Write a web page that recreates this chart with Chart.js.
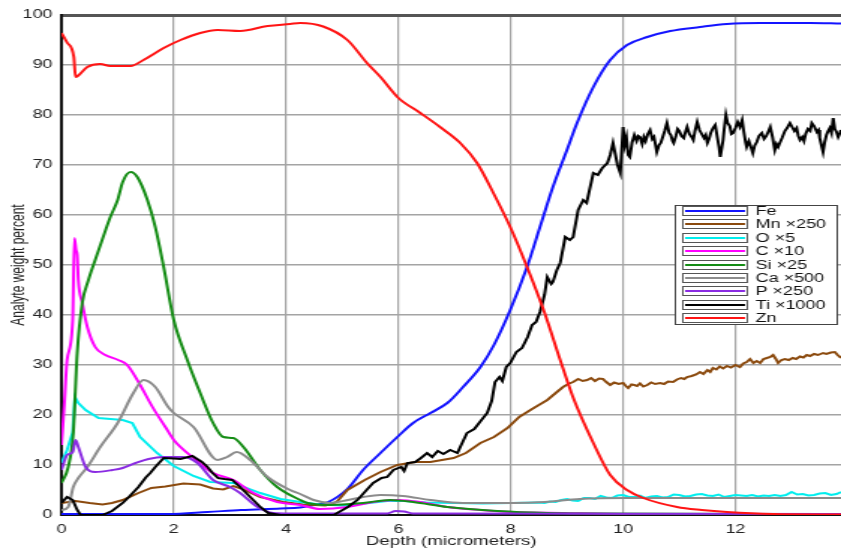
<!DOCTYPE html>
<html>
<head>
<meta charset="utf-8">
<script src="https://cdn.jsdelivr.net/npm/chart.js@4.4.1/dist/chart.umd.min.js"></script>
<style>
  html, body { margin: 0; padding: 0; background: #fff; overflow: hidden; }
  /* the reference is an old narrow plot stretched sideways, so draw narrow and stretch */
  #wrap { width: 561px; height: 549px; transform: scaleX(1.4991); transform-origin: 0 0; }
</style>
</head>
<body>
<div id="wrap"><canvas id="depthChart" width="561" height="549"></canvas></div>
<script>
// tick values
const xTickValues = [0, 2, 4, 6, 8, 10, 12];
const yTickValues = [0, 10, 20, 30, 40, 50, 60, 70, 80, 90, 100];

// [depth um, weight %]
const feData = [[0,0.2],[1.9,0.2],[2.6,0.6],[3.2,1.0],[3.9,1.3],[4.25,1.5],[4.5,2],[4.75,2.6],[5.09,5.2],[5.37,9],[5.68,12.4],[5.98,15.6],[6.26,18.4],[6.57,20.4],[6.87,22.4],[7.15,25.6],[7.46,29.6],[7.7,34],[7.99,41],[8.29,49.6],[8.52,57.6],[8.75,65.6],[9.0,73],[9.18,78.4],[9.47,85.6],[9.77,91],[10.07,94],[10.43,95.6],[10.84,96.8],[11.37,97.6],[11.85,98.2],[12.44,98.4],[13.33,98.4],[13.88,98.3]];

const mnData = [[0,2.4],[0.25,2.8],[0.5,2.4],[0.73,2.1],[0.9,2.4],[1.09,3],[1.37,4.4],[1.6,5.4],[1.85,5.7],[2.17,6.3],[2.47,6.1],[2.7,5.3],[2.88,5.1],[3.06,5.8],[3.2,5.3],[3.54,3.6],[3.95,2.6],[4.3,2.1],[4.7,1.9],[4.9,2.6],[5.09,5.0],[5.4,7],[5.68,8.6],[5.98,10],[6.3,10.6],[6.57,10.6],[6.98,11.4],[7.2,12.4],[7.46,14.4],[7.7,15.6],[7.94,17.4],[8.15,19.6],[8.35,21],[8.5,22],[8.65,23],[8.8,24.4],[8.93,25.6],[9.02,26.2],[9.11,26.6],[9.2,27.2],[9.28,26.8],[9.36,27],[9.43,27.4],[9.5,26.8],[9.57,27.3],[9.64,27.2],[9.7,26.6],[9.77,26],[9.84,26.5],[9.92,26.2],[10.0,26.4],[10.05,25.8],[10.09,25.4],[10.15,26.1],[10.2,26.0],[10.25,25.8],[10.3,26.3],[10.36,25.7],[10.43,26],[10.5,26.5],[10.57,26.2],[10.66,26.4],[10.73,26.2],[10.8,26.7],[10.89,26.6],[10.96,27.1],[11.03,27.4],[11.09,27.2],[11.14,27.6],[11.22,27.8],[11.3,28.1],[11.37,28.6],[11.43,28.2],[11.5,29],[11.55,28.6],[11.6,29.4],[11.66,29.1],[11.72,29.7],[11.78,29.3],[11.85,29.8],[11.92,29.5],[12.0,30.0],[12.08,29.6],[12.14,30.3],[12.2,30.6],[12.26,31.2],[12.32,30.4],[12.38,30.8],[12.44,30.4],[12.5,31.2],[12.56,31.4],[12.62,31.6],[12.67,32],[12.72,31.2],[12.76,30.4],[12.82,31],[12.88,31.2],[12.95,31.0],[13.02,31.4],[13.08,31.2],[13.15,31.7],[13.21,31.5],[13.27,32],[13.33,31.8],[13.4,32.2],[13.47,32.0],[13.56,32.4],[13.62,32.2],[13.7,32.5],[13.77,32.6],[13.82,32.0],[13.88,31.4]];

const oData = [[0,10.4],[0.1,13],[0.2,16.5],[0.24,23.6],[0.3,22.4],[0.43,21],[0.66,19.4],[1.09,19],[1.26,18.4],[1.4,15.6],[1.7,12.4],[2.0,9.8],[2.35,7.8],[2.65,6.6],[3.06,6.4],[3.3,5.4],[3.54,4.4],[3.9,3.2],[4.25,2.6],[4.6,2.1],[5.0,1.9],[5.4,2.3],[5.8,2.8],[6.1,2.8],[6.5,2.5],[7.0,2.4],[7.5,2.3],[8.0,2.4],[8.5,2.5],[8.6,2.4],[8.7,2.7],[8.8,2.6],[8.9,3.0],[9.0,3.2],[9.1,2.9],[9.2,2.8],[9.3,3.4],[9.4,3.4],[9.5,3.2],[9.6,3.8],[9.7,3.5],[9.8,3.4],[9.9,3.9],[10.0,4.0],[10.1,3.6],[10.2,3.6],[10.3,3.9],[10.4,3.4],[10.5,3.7],[10.6,3.8],[10.7,3.5],[10.8,3.6],[10.9,4.1],[11.0,4.0],[11.1,3.7],[11.2,3.8],[11.3,4.1],[11.4,4.2],[11.5,3.9],[11.6,3.8],[11.7,4.1],[11.8,3.6],[11.9,3.8],[12.0,4.0],[12.1,3.9],[12.2,3.8],[12.3,4.0],[12.4,3.7],[12.5,3.9],[12.6,3.8],[12.7,4.0],[12.8,3.8],[12.9,4.0],[13.0,4.6],[13.1,4.1],[13.2,4.2],[13.3,3.9],[13.4,4.0],[13.5,4.3],[13.6,4.4],[13.7,4.0],[13.8,4.2],[13.88,4.6]];

const cData = [[0,14],[0.05,22],[0.1,31],[0.2,39],[0.23,55.4],[0.26,53],[0.28,52],[0.3,47],[0.37,42.4],[0.46,37.6],[0.6,33.6],[0.78,32],[1.01,31],[1.17,30],[1.37,26.6],[1.62,21.6],[1.85,17.6],[2.0,15],[2.35,11.4],[2.7,8.4],[3.06,7],[3.42,4.4],[3.84,2.6],[4.25,2],[4.6,1.2],[5.09,1.6],[5.55,2.6],[5.98,3],[6.39,2.6],[6.87,1.6],[7.46,1],[8.04,0.6],[8.93,0.4],[10,0.2],[13.88,0.1]];

const siData = [[0,6.4],[0.12,9.6],[0.21,16.4],[0.28,32.4],[0.37,42.4],[0.48,47],[0.6,51],[0.73,55.2],[0.87,59.6],[1.0,63],[1.09,66.6],[1.23,68.6],[1.35,67.6],[1.53,63],[1.67,57.6],[1.82,49.6],[2.0,39],[2.24,31],[2.47,24.4],[2.7,18.4],[2.88,15.6],[3.06,15.4],[3.24,13.6],[3.54,9],[3.84,5.6],[4.25,3],[4.38,2.4],[4.79,2],[5.37,2.4],[5.85,3],[6.26,2.6],[6.87,1.6],[7.76,0.8],[8.65,0.4],[9.5,0.3],[13.88,0.2]];

const caData = [[0,1],[0.12,1.6],[0.21,5.6],[0.3,7.4],[0.46,9.6],[0.69,13.6],[1.0,18.4],[1.28,24.4],[1.46,27],[1.67,25.6],[1.9,21.6],[2.0,20.4],[2.35,17.6],[2.78,11],[2.95,11.6],[3.12,12.6],[3.36,11],[3.67,7.6],[4.07,5],[4.25,4.2],[4.49,3],[4.79,2.4],[5.1,3],[5.37,3.6],[5.68,4],[6.08,3.8],[6.57,3],[7.15,2.4],[8.04,2.4],[8.6,2.6],[9.23,3.2],[10.07,3.4],[13.88,3.4]];

const pData = [[0,9],[0.1,12],[0.2,12.6],[0.25,15],[0.3,13.6],[0.43,9.6],[0.6,8.6],[0.91,9],[1.09,9.4],[1.32,10.4],[1.55,11.2],[1.82,11.6],[2.17,11.6],[2.42,10.4],[2.7,7],[3.0,5.6],[3.18,4.4],[3.49,1.6],[3.77,0.4],[4.07,0.3],[5.8,0.3],[5.95,0.8],[6.1,0.7],[6.25,0.3],[13.88,0.2]];

const tiData = [[0,2.4],[0.1,3.6],[0.2,3],[0.28,1],[0.34,0],[0.73,0],[0.9,0.8],[1.09,2.4],[1.2,3.6],[1.37,5.6],[1.5,7.5],[1.58,8.4],[1.67,9.6],[1.82,11.4],[2.0,11.3],[2.12,11.2],[2.33,11.8],[2.5,10.6],[2.6,9.6],[2.69,8.4],[2.79,7.4],[2.9,7.2],[3.04,7],[3.18,5.6],[3.36,3.6],[3.54,1.6],[3.68,0.4],[3.9,0],[4.85,0],[4.91,0.4],[5.1,1.6],[5.27,3],[5.4,4.6],[5.55,6.4],[5.7,7.4],[5.8,7.6],[5.91,9],[6.05,9.6],[6.1,8.8],[6.16,10.4],[6.3,10.6],[6.4,11.4],[6.51,12.4],[6.6,11.6],[6.7,12.8],[6.8,12.2],[6.92,13],[7.05,12.4],[7.1,13.6],[7.22,16.4],[7.35,17.2],[7.45,18.6],[7.58,20.4],[7.66,22.8],[7.72,26.6],[7.8,27.6],[7.85,26.8],[7.92,29.6],[7.99,30.4],[8.1,32.6],[8.2,33.4],[8.3,35.6],[8.38,38],[8.45,38.6],[8.52,40.6],[8.6,44],[8.65,47.6],[8.72,46.2],[8.75,46.6],[8.82,49],[8.88,50.4],[8.97,55.6],[9.05,55],[9.11,55.6],[9.2,61],[9.29,63],[9.35,62.4],[9.47,68.4],[9.55,68],[9.63,69.4],[9.72,70.4],[9.77,72],[9.82,74.4],[9.9,70],[9.95,68.4],[10.0,77.6],[10.03,74],[10.06,75.5],[10.09,72],[10.12,71.6],[10.16,74.5],[10.2,76],[10.24,74.8],[10.27,75.8],[10.3,75.6],[10.34,74.2],[10.37,75.6],[10.4,74.8],[10.44,76.2],[10.48,77],[10.52,75.2],[10.55,75.6],[10.58,73.8],[10.6,72.6],[10.64,74],[10.67,74.4],[10.7,75.4],[10.74,76.8],[10.78,78.4],[10.82,76.4],[10.85,76],[10.88,74.8],[10.9,74.4],[10.94,75.8],[10.97,77.2],[11.0,76.8],[11.04,75.8],[11.08,75.4],[11.11,76.6],[11.14,77.6],[11.18,76.2],[11.22,75.6],[11.25,75],[11.28,76.8],[11.32,78.6],[11.36,77],[11.4,76.2],[11.44,75.4],[11.47,76],[11.5,74.4],[11.53,75.2],[11.56,76.4],[11.6,77.4],[11.64,78],[11.68,75.4],[11.71,73.4],[11.73,71.6],[11.76,73.6],[11.78,75],[11.8,77.2],[11.83,80],[11.86,78.4],[11.9,77.8],[11.93,76.2],[11.96,76.4],[12.0,77.4],[12.04,78.6],[12.08,77.6],[12.12,79],[12.15,76.6],[12.18,74.6],[12.2,73.6],[12.24,74.8],[12.27,73.8],[12.31,72.4],[12.34,73.8],[12.38,74.6],[12.42,75.8],[12.47,76.4],[12.51,75.2],[12.55,75.8],[12.59,76.8],[12.62,77.6],[12.66,75.6],[12.7,73],[12.73,74.2],[12.76,73.6],[12.79,74.4],[12.83,75.4],[12.88,76.8],[12.92,77.4],[12.97,78.4],[13.01,77.6],[13.05,76.8],[13.09,77.4],[13.12,75.8],[13.15,75],[13.19,75.6],[13.22,74.8],[13.25,76.2],[13.29,77.2],[13.33,76.8],[13.36,78.4],[13.4,77.8],[13.45,76.6],[13.48,77],[13.5,75.4],[13.53,74],[13.56,72.6],[13.59,74.6],[13.62,76],[13.65,76.8],[13.68,77.4],[13.71,76.4],[13.74,79.4],[13.77,77.2],[13.8,76.6],[13.83,75.6],[13.86,76.4],[13.88,77]];

const znData = [[0,96.4],[0.1,94.5],[0.22,91.6],[0.25,87.6],[0.3,87.9],[0.46,89.6],[0.69,90.2],[0.87,89.8],[1.23,89.8],[1.46,91],[1.82,93.4],[2.12,95],[2.47,96.4],[2.78,97],[3.18,96.8],[3.67,97.8],[4.07,98.2],[4.25,98.4],[4.66,97.7],[5.09,95],[5.44,90.4],[5.68,87.6],[6.0,83.4],[6.39,80.4],[6.74,77.6],[7.1,74.4],[7.4,70.4],[7.69,64.4],[7.99,57.6],[8.29,49.6],[8.6,40.5],[8.88,31],[9.11,23.5],[9.47,14.4],[9.77,8],[10.07,5],[10.36,3.4],[10.96,1.6],[11.4,1.0],[11.85,0.6],[12.67,0.2],[13.88,0.1]];

const seriesNames = ['Fe', 'Mn \u00d7250', 'O \u00d75', 'C \u00d710', 'Si \u00d725', 'Ca \u00d7500', 'P \u00d7250', 'Ti \u00d71000', 'Zn'];
const seriesValues = [feData, mnData, oData, cData, siData, caData, pData, tiData, znData];
const lineColors = ['#1414ff', '#8b4a0e', '#00eeee', '#ff00ff', '#148c14', '#8c8c8c', '#8a2be2', '#000000', '#ff1414'];
// noisy traces stay as straight segments, the rest are drawn smooth
const noisySeries = ['Mn \u00d7250', 'O \u00d75', 'Ti \u00d71000'];

const textFont = { family: '"Liberation Sans", Arial, sans-serif', size: 12 };
const textColor = '#222';

// legend box sitting inside the plot, right side
const insideLegend = {
    id: 'insideLegend',
    afterDatasetsDraw(chart) {
        const { ctx, chartArea } = chart;
        const right = chartArea.right - 2;
        const left = right - 109;
        const top = chartArea.top + 190;
        const rowH = 13.4;
        ctx.save();
        ctx.fillStyle = '#fff';
        ctx.fillRect(left, top, right - left, 120);
        ctx.strokeStyle = '#444';
        ctx.lineWidth = 1;
        ctx.strokeRect(left + 0.5, top + 0.5, right - left - 1, 119);
        ctx.font = '12px "Liberation Sans", Arial, sans-serif';
        ctx.textBaseline = 'middle';
        chart.data.datasets.forEach((ds, i) => {
            const cy = Math.round(top + 6 + i * rowH);
            ctx.strokeStyle = '#555';
            ctx.lineWidth = 1;
            ctx.strokeRect(left + 5.5, cy - 4.5, 43, 9);
            ctx.strokeStyle = ds.borderColor;
            ctx.lineWidth = 2;
            ctx.beginPath();
            ctx.moveTo(left + 7, cy);
            ctx.lineTo(left + 47, cy);
            ctx.stroke();
            ctx.fillStyle = '#111';
            ctx.fillText(ds.label, left + 54, cy + 0.5);
        });
        ctx.restore();
    }
};

new Chart(document.getElementById('depthChart'), {
    type: 'line',
    data: {
        datasets: seriesNames.map((name, i) => ({
            label: name,
            data: seriesValues[i].map(([x, y]) => ({ x, y })),
            borderColor: lineColors[i],
            backgroundColor: lineColors[i],
            borderWidth: 2,
            pointRadius: 0,
            fill: false,
            cubicInterpolationMode: noisySeries.includes(name) ? 'default' : 'monotone',
            tension: 0,
            order: seriesNames.length - 1 - i,
        })),
    },
    options: {
        responsive: false,
        animation: false,
        devicePixelRatio: 1,
        layout: { padding: { top: 15, right: 0, bottom: 0, left: 0 } },
        plugins: {
            legend: { display: false },
            tooltip: { enabled: false },
        },
        scales: {
            x: {
                type: 'linear',
                min: 0,
                max: 13.88,
                afterFit(scale) { scale.height = 34; },
                afterBuildTicks(scale) { scale.ticks = xTickValues.map(v => ({ value: v })); },
                ticks: { font: textFont, color: textColor, padding: 7, maxRotation: 0, autoSkip: false },
                grid: {
                    drawTicks: false,
                    color: c => (c.tick && c.tick.value === 0 ? 'rgba(0,0,0,0)' : '#a4a4a4'),
                    lineWidth: 1.2,
                },
                border: { color: '#111', width: 2 },
                title: { display: true, text: 'Depth (micrometers)', font: { ...textFont, size: 12.5 }, color: textColor, padding: { top: 0, bottom: 0 } },
            },
            y: {
                min: 0,
                max: 100,
                afterFit(scale) { scale.width = 41; },
                afterBuildTicks(scale) { scale.ticks = yTickValues.map(v => ({ value: v })); },
                ticks: { font: textFont, color: textColor, padding: 6 },
                grid: {
                    drawTicks: false,
                    color: c => {
                        if (!c.tick || c.tick.value === 0) return 'rgba(0,0,0,0)';
                        return c.tick.value === 100 ? '#555' : '#a4a4a4';
                    },
                    lineWidth: c => (c.tick && c.tick.value === 100 ? 3 : 1.5),
                },
                border: { color: '#111', width: 2 },
                title: { display: true, text: 'Analyte weight percent', font: textFont, color: textColor, padding: { top: 5, bottom: 0 } },
            },
        },
    },
    plugins: [insideLegend],
});
</script>
</body>
</html>
